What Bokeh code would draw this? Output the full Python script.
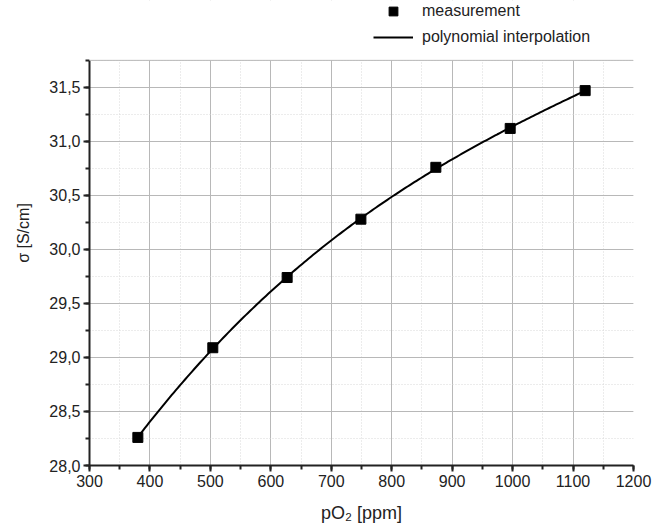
import numpy as np
from bokeh.plotting import figure
from bokeh.models import (Range1d, Legend, LegendItem, CustomJSTickFormatter,
                          FixedTicker, BoxAnnotation, Span)
from bokeh.embed import file_html
from bokeh.resources import INLINE

# data
po2_ppm = [380, 504, 627, 749, 873, 996, 1120]
sigma_s_cm = [28.26, 29.09, 29.74, 30.28, 30.76, 31.12, 31.47]
x_ticks = [300, 400, 500, 600, 700, 800, 900, 1000, 1100, 1200]
y_ticks = [28.0, 28.5, 29.0, 29.5, 30.0, 30.5, 31.0, 31.5]
y_min, y_max = 28.0, 31.75

FONT = "Liberation Sans"

# polynomial interpolation of the measurements
coef = np.polyfit(po2_ppm, sigma_s_cm, 3)
xf = np.linspace(min(po2_ppm), max(po2_ppm), 200)
yf = np.polyval(coef, xf)

# plot area spans 406 px for the visible y range; extend frame upward
# (60 px) to host the legend above the visible plotting area
frame_px, extra_px = 406, 60
y_top = y_max + extra_px * (y_max - y_min) / frame_px

p = figure(width=660, height=525, output_backend="svg", toolbar_location=None,
           x_range=Range1d(300, 1200), y_range=Range1d(y_min, y_top),
           min_border_left=89, min_border_right=27, min_border_top=0,
           min_border_bottom=59)

line_r = p.line(xf, yf, line_color="black", line_width=2)
pts_r = p.scatter(po2_ppm, sigma_s_cm, marker="square", size=10,
                  fill_color="black", line_color="black")

p.xaxis.ticker = FixedTicker(ticks=x_ticks, minor_ticks=list(range(300, 1201, 50)))
p.yaxis.ticker = FixedTicker(ticks=y_ticks, minor_ticks=list(np.arange(28.0, 31.76, 0.25)))
p.yaxis.formatter = CustomJSTickFormatter(code="return tick.toFixed(1).replace('.', ',');")
p.yaxis.bounds = (y_min, y_max)

for ax in (p.xaxis[0], p.yaxis[0]):
    ax.axis_line_width = 2
    ax.axis_line_color = "#222222"
    ax.major_tick_line_color = "#222222"
    ax.major_tick_line_width = 2
    ax.minor_tick_line_color = "#222222"
    ax.minor_tick_line_width = 2
    ax.major_tick_out = 6
    ax.major_tick_in = 0
    ax.minor_tick_out = 4
    ax.minor_tick_in = 0
    ax.major_label_text_font = FONT
    ax.major_label_text_font_size = "16px"
    ax.major_label_text_color = "#222222"
    ax.axis_label_text_font = FONT
    ax.axis_label_text_font_style = "normal"
    ax.axis_label_text_color = "#222222"
    ax.major_label_standoff = 3

p.xaxis.axis_label = "pO\u2082 [ppm]"
p.yaxis.axis_label = "\u03c3 [S/cm]"
p.xaxis.axis_label_text_font_size = "18px"
p.yaxis.axis_label_text_font_size = "16px"
p.xaxis.axis_label_standoff = 13
p.yaxis.axis_label_standoff = 14

p.xgrid.grid_line_color = "#b8b8b8"
p.ygrid.grid_line_color = "#b8b8b8"
p.xgrid.minor_grid_line_color = "#d8d8d8"
p.ygrid.minor_grid_line_color = "#d8d8d8"
p.xgrid.minor_grid_line_dash = "1 2"
p.ygrid.minor_grid_line_dash = "1 2"
p.outline_line_color = None
p.background_fill_color = "white"
p.border_fill_color = "white"

# blank out the area above the visible plot, then draw its top border
p.add_layout(BoxAnnotation(bottom=y_max, fill_color="white", fill_alpha=1,
                           line_color=None))
p.add_layout(Span(location=y_max, dimension="width", line_color="#b8b8b8",
                  line_width=1))

legend = Legend(items=[LegendItem(label="measurement", renderers=[pts_r]),
                       LegendItem(label="polynomial interpolation", renderers=[line_r])],
                location=(284, 417), border_line_color=None,
                background_fill_alpha=0, padding=0, margin=0,
                glyph_width=40, glyph_height=22, label_height=22,
                spacing=4, label_standoff=9,
                label_text_font=FONT, label_text_font_size="16px",
                label_text_color="#222222")
p.add_layout(legend)

open("out.html", "w").write(file_html(p, INLINE))
